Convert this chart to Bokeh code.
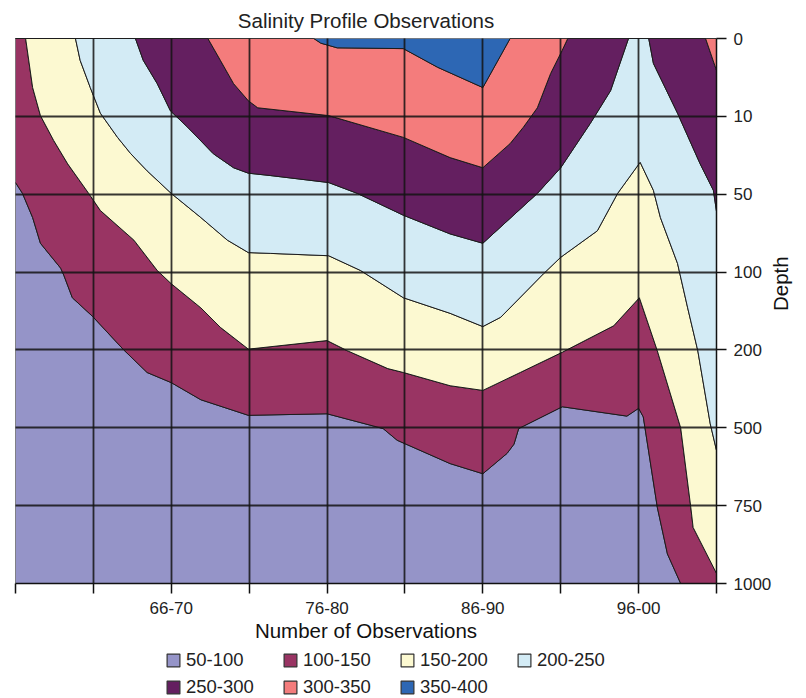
import math
from bokeh.plotting import figure
from bokeh.layouts import column
from bokeh.models import Range1d, FixedTicker, Legend, LegendItem
from bokeh.embed import file_html
from bokeh.resources import INLINE

FONT = "Liberation Sans"

# x positions are period indices (0 .. 9), y positions are depth-level indices (0 = surface)
period_labels = ["", "", "66-70", "", "76-80", "", "86-90", "", "96-00", ""]
depth_labels = ["0", "10", "50", "100", "200", "500", "750", "1000"]
band_labels = ["50-100", "100-150", "150-200", "200-250", "250-300", "300-350", "350-400"]
band_colors = ["#9594c8", "#993463", "#fcf9d1", "#d3ebf5", "#641f60", "#f47c7c", "#2d67b4"]

# contour lines (boundaries between bands)
c100_x = [0, 0.09, 0.22, 0.32, 0.58, 0.62, 0.73, 0.99, 1.39, 1.69, 2.0, 2.38, 2.99, 4.0, 4.72, 4.9,
          5.58, 6.0, 6.31, 6.4, 6.46, 6.52, 7.02, 7.85, 8.0, 8.06, 8.24, 8.37, 8.54, 9]
c100_y = [1.85, 1.99, 2.3, 2.63, 2.95, 3.04, 3.33, 3.57, 4.0, 4.29, 4.42, 4.64, 4.84, 4.82, 5.01, 5.16,
          5.46, 5.59, 5.33, 5.21, 5.01, 4.98, 4.73, 4.85, 4.75, 4.86, 6.02, 6.62, 7.0, 7.0]

c150_x = [0, 0.13, 0.22, 0.32, 0.49, 0.67, 0.94, 1.09, 1.52, 1.82, 2.0, 2.38, 2.63, 2.99, 4.0, 4.26,
          4.78, 4.98, 5.58, 6.0, 6.48, 7.02, 7.68, 8.01, 8.24, 8.54, 8.67, 8.7, 9]
c150_y = [0, 0, 0.63, 0.99, 1.31, 1.61, 1.99, 2.21, 2.59, 2.98, 3.15, 3.46, 3.71, 3.99, 3.88, 4.01,
          4.24, 4.29, 4.46, 4.52, 4.29, 4.03, 3.69, 3.33, 4.01, 5.0, 6.02, 6.28, 6.87]

c200_x = [0, 0.77, 0.83, 0.96, 1.09, 1.31, 1.48, 1.69, 2.0, 2.38, 2.72, 2.99, 3.27, 4.02, 4.43, 4.98,
          5.58, 6.0, 6.23, 6.78, 7.0, 7.47, 7.73, 8.02, 8.19, 8.28, 8.5, 8.63, 8.76, 8.92, 9]
c200_y = [0, 0, 0.28, 0.63, 0.96, 1.27, 1.48, 1.7, 1.99, 2.3, 2.59, 2.75, 2.76, 2.79, 2.98, 3.33,
          3.53, 3.7, 3.58, 3.02, 2.81, 2.47, 1.99, 1.59, 1.95, 2.3, 2.89, 3.46, 4.01, 4.95, 5.29]

c250_x = [0, 1.54, 1.64, 1.82, 1.99, 2.21, 2.54, 2.8, 2.99, 3.27, 4.02, 4.39, 4.98, 5.58, 6.0, 6.7,
          7.0, 7.38, 7.64, 7.87, 8.13, 8.19, 8.5, 8.79, 8.96, 9]
c250_y = [0, 0, 0.28, 0.58, 0.93, 1.14, 1.48, 1.66, 1.73, 1.76, 1.85, 1.99, 2.27, 2.51, 2.63, 1.99,
          1.66, 1.09, 0.67, 0, 0, 0.32, 0.96, 1.61, 1.95, 2.22]

c300_x = [0, 2.47, 2.63, 2.8, 2.99, 3.11, 4.02, 4.98, 5.58, 6.0, 6.35, 6.52, 6.7, 6.87, 7.02, 7.09, 8.86, 9]
c300_y = [0, 0, 0.28, 0.58, 0.8, 0.89, 0.99, 1.27, 1.53, 1.66, 1.35, 1.14, 0.89, 0.45, 0.15, 0, 0, 0.41]

c350_x = [0, 3.83, 3.92, 4.13, 4.98, 5.42, 6.0, 6.35, 9]
c350_y = [0, 0, 0.06, 0.12, 0.13, 0.37, 0.63, 0, 0]

n_periods = len(period_labels)
n_depths = len(depth_labels)
x_max = n_periods - 1
y_max = n_depths - 1

p = figure(
    title="Salinity Profile Observations",
    width=806, height=648,
    x_range=Range1d(0, x_max), y_range=Range1d(y_max, 0),
    y_axis_location="right",
    output_backend="svg", toolbar_location=None,
    min_border_left=15, min_border_top=38, min_border_right=90, min_border_bottom=65,
)
p.outline_line_color = None
p.background_fill_color = "white"

# legend strip below the chart (its own small figure, so nothing is clipped);
# its ranges are away from the data so the band shapes only show up as legend swatches
pl = figure(width=806, height=50, x_range=Range1d(-100, -99), y_range=Range1d(-100, -99),
            x_axis_type=None, y_axis_type=None, output_backend="svg", toolbar_location=None,
            min_border=0)
pl.outline_line_color = None
pl.grid.visible = False

bottom_edge = ([0, x_max], [y_max, y_max])
top_edge = ([0, x_max], [0, 0])
bounds = [bottom_edge, (c100_x, c100_y), (c150_x, c150_y), (c200_x, c200_y),
          (c250_x, c250_y), (c300_x, c300_y), (c350_x, c350_y), top_edge]

EDGE = "#1c1c1c"
items = []
for i, (lab, col) in enumerate(zip(band_labels, band_colors)):
    lo_x, lo_y = bounds[i]
    up_x, up_y = bounds[i + 1]
    xs = list(up_x) + list(lo_x)[::-1]
    ys = list(up_y) + list(lo_y)[::-1]
    p.patch(xs, ys, fill_color=col, line_color=EDGE, line_width=1)
    r = pl.patch(xs, ys, fill_color=col, line_color="#333333", line_width=1.2)
    items.append(LegendItem(label=lab, renderers=[r]))

# grid drawn over the bands
for g, n in ((p.xgrid, n_periods), (p.ygrid, n_depths)):
    g.ticker = FixedTicker(ticks=list(range(n)))
    g.grid_line_color = "#141414"
    g.grid_line_width = 1.8
    g.grid_line_alpha = 0.85
    g.level = "overlay"

xa = p.xaxis[0]
xa.ticker = FixedTicker(ticks=list(range(n_periods)))
xa.major_label_overrides = {i: s for i, s in enumerate(period_labels)}
xa.axis_label = "Number of Observations"
ya = p.yaxis[0]
ya.ticker = FixedTicker(ticks=list(range(n_depths)))
ya.major_label_overrides = {i: s for i, s in enumerate(depth_labels)}
ya.axis_label = "Depth"

for ax in (xa, ya):
    ax.axis_line_color = "#111111"
    ax.axis_line_width = 1.5
    ax.major_tick_line_color = "#111111"
    ax.major_tick_line_width = 1.5
    ax.major_tick_in = 0
    ax.major_tick_out = 10
    ax.minor_tick_line_color = None
    ax.major_label_text_font = FONT
    ax.major_label_text_font_size = "17px"
    ax.major_label_text_color = "#222222"
    ax.axis_label_text_font = FONT
    ax.axis_label_text_font_size = "20.5px"
    ax.axis_label_text_font_style = "normal"
    ax.axis_label_text_color = "#111111"
xa.major_label_standoff = 8
xa.axis_label_standoff = 2
ya.major_label_standoff = 7
ya.axis_label_standoff = 6
try:
    ya.axis_label_orientation = math.pi / 2
except Exception:
    pass

p.title.text_font = FONT
p.title.text_font_size = "20.5px"
p.title.text_font_style = "normal"
p.title.text_color = "#222222"
p.title.align = "center"
p.title.vertical_align = "top"

legend_style = dict(
    orientation="horizontal",
    label_text_font=FONT, label_text_font_size="18.5px", label_text_color="#222222",
    glyph_width=16, glyph_height=16, label_standoff=5, label_width=90, label_height=20,
    spacing=6, padding=0, margin=0,
    border_line_color=None, background_fill_alpha=0,
)
pl.add_layout(Legend(items=items[:4], location=(150, 27), **legend_style), "center")
pl.add_layout(Legend(items=items[4:], location=(150, 0), **legend_style), "center")

open("out.html", "w").write(file_html(column(p, pl, spacing=0), INLINE))
